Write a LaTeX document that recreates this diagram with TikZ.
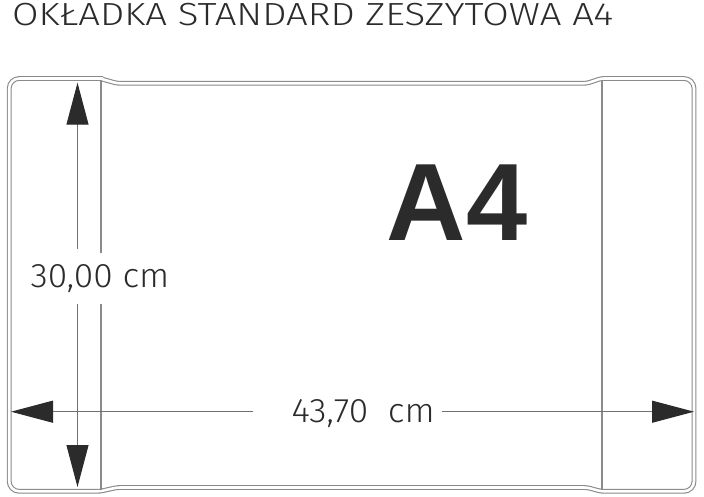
\documentclass[tikz,border=0pt]{standalone}
\usepackage{fontspec}
\setmainfont{Liberation Sans}
\newfontfamily\lightfont{Fira Sans Light}[FakeStretch=1.04]
\newfontfamily\titlefont{Fira Sans Light}[FakeStretch=1.2]
\usetikzlibrary{arrows.meta}
\definecolor{edgegray}{HTML}{8A8A8A}
\definecolor{inkdark}{HTML}{2B2B2B}
\definecolor{linegray}{HTML}{707070}
\tikzset{
  coverline/.style={draw=edgegray, line width=1.1pt, double=white, double distance=2.6pt},
  foldline/.style={draw=edgegray, line width=1.1pt},
  dimline/.style={draw=linegray, line width=1pt},
  dimtip/.style={-{Triangle[length=42pt,width=22pt,color=inkdark]}},
  lbl/.style={inner sep=0pt, text=inkdark, font=\lightfont\fontsize{34}{34}\selectfont},
}
\begin{document}
\begin{tikzpicture}[x=1pt,y=-1pt]
\useasboundingbox (0,0) rectangle (704,496);
\fill[white] (0,0) rectangle (704,496);
% title
\node[inner sep=0pt, anchor=base west, text=inkdark, font=\titlefont\fontsize{32}{32}\selectfont] (title) at (12,25) {OKŁADKA STANDARD ZESZYTOWA A4};
% cover outline
\draw[coverline] (101,78.5) [rounded corners=10pt] -- (9.2,78.5) -- (9.2,491.3) -- (60,491.3) [rounded corners=3pt] -- (100,491.3) -- (117,487.5) -- (587,487.5) -- (601,491.3) -- (640,491.3) [rounded corners=10pt] -- (694,491.3) -- (694,78.5) -- (650,78.5) [rounded corners=3pt] -- (601,78.5) -- (587,83.3) -- (117,83.3) -- (100,78.5) -- cycle;
% fold lines
\coordinate (fl1) at (101,80.5);
\coordinate (fl2) at (101,253);
\coordinate (fl3) at (101,304);
\coordinate (fl4) at (101,489.5);
\coordinate (fr1) at (602,80.5);
\coordinate (fr2) at (602,489.5);
\draw[foldline] (fl1) -- (fl2);
\draw[foldline] (fl3) -- (fl4);
\draw[foldline] (fr1) -- (fr2);
% big label
\node[inner sep=0pt, anchor=base west, text=inkdark, font=\bfseries\fontsize{110}{110}\selectfont] (a4) at (386.5,240) {A4};
% labels
\node[lbl, anchor=base west] (hlab) at (30.5,287.7) {30,00 cm};
\node[lbl, anchor=base west] (wlab) at (291.5,422) {43,70\ \ cm};
% vertical dimension
\coordinate (vt) at (77.5,82.7);
\coordinate (vta) at (77.5,249);
\coordinate (vba) at (77.5,304);
\coordinate (vb) at (77.5,487);
\draw[dimline, dimtip] (vta) -- (vt);
\draw[dimline, dimtip] (vba) -- (vb);
% horizontal dimension
\coordinate (hl) at (11,411.7);
\coordinate (hla) at (253,411.7);
\coordinate (hra) at (442,411.7);
\coordinate (hr) at (694,411.7);
\draw[dimline, dimtip] (hla) -- (hl);
\draw[dimline, dimtip] (hra) -- (hr);
\end{tikzpicture}
\end{document}
